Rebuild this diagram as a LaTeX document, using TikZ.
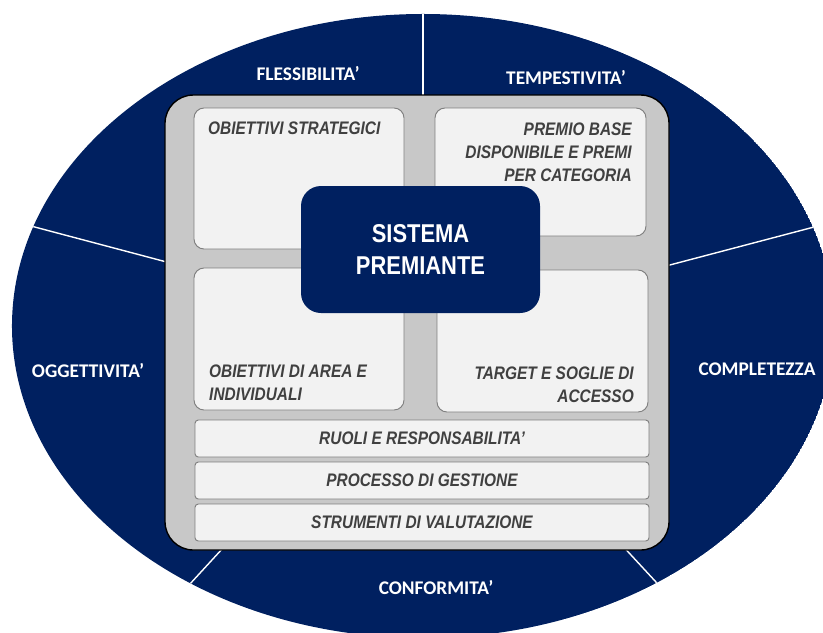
\documentclass[tikz,border=0pt]{standalone}
\usepackage{fontspec}
\newfontfamily\boxfont{Liberation Sans}[FakeStretch=0.85]
\newfontfamily\ringfont{Carlito}
\definecolor{ringblue}{HTML}{002060}
\definecolor{panelgray}{HTML}{C8C8C8}
\definecolor{cellfill}{HTML}{F2F2F2}
\definecolor{cellline}{HTML}{7F7F7F}
\definecolor{inkgray}{HTML}{404040}

\begin{document}
\begin{tikzpicture}[x=0.03cm, y=-0.03cm,
  cell/.style={draw=cellline, fill=cellfill, line width=0.8pt, rounded corners=0.3cm},
  bar/.style={draw=cellline, fill=cellfill, line width=0.8pt, rounded corners=0.1cm},
  celltext/.style={font=\boxfont\bfseries\itshape\fontsize{15.5}{19.5}\selectfont, text=inkgray, inner sep=0pt},
  ringtext/.style={font=\ringfont\bfseries\fontsize{16.5}{20}\selectfont, text=white, inner sep=0pt},
  hub/.style={rectangle, rounded corners=0.6cm, fill=ringblue, text=white, align=center,
    minimum width=7.17cm, minimum height=3.81cm, inner sep=0pt,
    font=\boxfont\bfseries\fontsize{22}{26.5}\selectfont}]
\useasboundingbox (0,0) rectangle (823,632);
\clip (0,0) rectangle (823,632);
% outer ring with dividers
\begin{scope}
\clip (423,326) ellipse [x radius=12.33cm, y radius=9.36cm];
\fill[ringblue] (423,326) ellipse [x radius=12.33cm, y radius=9.36cm];
\foreach \p in {(423,-10), (-3,217), (852,217), (167,609), (680,608)}
 \draw[white, line width=1.2pt] (423,330) -- \p;
\end{scope}
\node[ringtext] (flex)  at (308,74)  {FLESSIBILITA’};
\node[ringtext] (tempo) at (566,78)  {TEMPESTIVITA’};
\node[ringtext] (ogg)   at (88,371)  {OGGETTIVITA’};
\node[ringtext] (compl) at (757,369) {COMPLETEZZA};
\node[ringtext] (conf)  at (436,588) {CONFORMITA’};
% grey panel
\draw[fill=panelgray, draw=black, line width=1.2pt, rounded corners=0.85cm] (165,95) rectangle (669,550);
\draw[cell] (194,108) rectangle (404,249);
\draw[cell] (435,108) rectangle (646,236);
\draw[cell] (194,268) rectangle (404,410);
\draw[cell] (437,270) rectangle (648,412);
\node[celltext, anchor=north west] (strat) at (208,122) {OBIETTIVI STRATEGICI};
\node[celltext, anchor=north east, align=right] (premio) at (632,123) {PREMIO BASE\\DISPONIBILE E PREMI\\PER CATEGORIA};
\node[celltext, anchor=north west, align=left] (area) at (209,365) {OBIETTIVI DI AREA E\\INDIVIDUALI};
\node[celltext, anchor=north east, align=right] (target) at (634,367) {TARGET E SOGLIE DI\\ACCESSO};
\foreach \t [count=\i] in {RUOLI E RESPONSABILITA’, PROCESSO DI GESTIONE, STRUMENTI DI VALUTAZIONE} {
 \draw[bar] (195,378+42*\i) rectangle (649,415+42*\i);
 \node[celltext] (bar\i) at (422,396.5+42*\i) {\t};
}
\node[hub] (hub) at (420.5,249.5) {SISTEMA\\PREMIANTE};
\end{tikzpicture}
\end{document}
